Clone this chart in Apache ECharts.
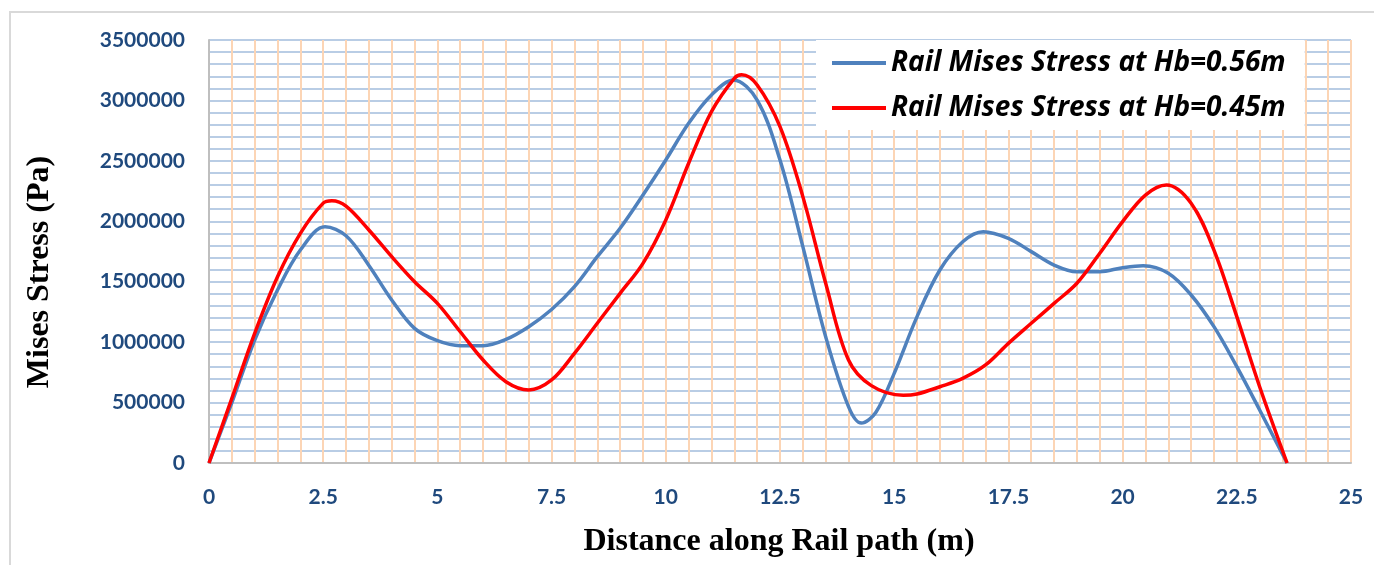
<!DOCTYPE html>
<html>
<head>
<meta charset="utf-8">
<script src="https://cdn.jsdelivr.net/npm/echarts@6/dist/echarts.min.js"></script>
<style>
html,body{margin:0;padding:0;background:#fff;}
#main{width:1374px;height:565px;}
</style>
</head>
<body>
<div id="main"></div>
<script>
// ---- data ----
var seriesNames = ['Rail Mises Stress at Hb=0.56m', 'Rail Mises Stress at Hb=0.45m'];
var xTicks = [0, 2.5, 5, 7.5, 10, 12.5, 15, 17.5, 20, 22.5, 25];
var yTicks = [0, 500000, 1000000, 1500000, 2000000, 2500000, 3000000, 3500000];

var blueX = [0, 0.5, 1.0, 1.5, 2.0, 2.54, 3.0, 3.5, 4.0, 4.5, 5.0, 5.5, 6.0, 6.5, 7.0, 7.5, 8.0, 8.5, 9.0, 9.5, 10.0, 10.5, 11.0, 11.48, 12.0, 12.5, 13.0, 13.5, 14.0, 14.28, 14.6, 15.0, 15.5, 16.0, 16.5, 16.95, 17.5, 18.0, 18.5, 19.0, 19.5, 20.0, 20.45, 21.0, 21.5, 22.0, 22.5, 23.0, 23.6];
var blueY = [0, 500000, 1018000, 1431000, 1762000, 1955000, 1880000, 1635000, 1349000, 1114000, 1012000, 971000, 971000, 1023000, 1128000, 1270000, 1459000, 1707000, 1942000, 2217000, 2507000, 2811000, 3045000, 3170000, 3003000, 2507000, 1790000, 1045000, 466000, 330000, 420000, 742000, 1211000, 1597000, 1831000, 1914000, 1859000, 1749000, 1638000, 1583000, 1583000, 1616000, 1632000, 1570000, 1390000, 1128000, 797000, 439000, 0];

var redX = [0, 0.5, 1.0, 1.5, 2.0, 2.5, 2.69, 3.0, 3.5, 4.0, 4.5, 5.0, 5.5, 6.0, 6.5, 7.0, 7.5, 8.0, 8.5, 9.0, 9.5, 10.0, 10.5, 11.0, 11.5, 11.66, 12.0, 12.5, 13.0, 13.5, 14.0, 14.5, 15.2, 15.5, 16.0, 16.5, 17.0, 17.5, 18.0, 18.5, 19.0, 19.5, 20.0, 20.5, 20.96, 21.5, 22.0, 22.5, 23.0, 23.6];
var redY = [0, 535000, 1073000, 1541000, 1900000, 2150000, 2170000, 2125000, 1928000, 1707000, 1500000, 1321000, 1086000, 852000, 673000, 604000, 687000, 907000, 1156000, 1404000, 1652000, 2011000, 2480000, 2907000, 3183000, 3212000, 3128000, 2783000, 2204000, 1487000, 852000, 640000, 560000, 571000, 631000, 700000, 811000, 990000, 1156000, 1321000, 1487000, 1735000, 1997000, 2217000, 2300000, 2149000, 1762000, 1211000, 631000, 0];

function pairs(xs, ys) { return xs.map(function (x, i) { return [x, ys[i]]; }); }

var chart = echarts.init(document.getElementById('main'), null, {renderer: 'canvas'});
var tickFont = {fontFamily: 'Lato', fontWeight: 'bold', fontSize: 21, color: '#1F497D'};

chart.setOption({
  animation: false,
  backgroundColor: '#fff',
  grid: {left: 209, right: 23, top: 40, bottom: 102, containLabel: false},
  xAxis: {
    type: 'value', min: xTicks[0], max: xTicks[xTicks.length - 1], interval: 2.5,
    axisLine: {show: true, lineStyle: {color: '#BFBFBF', width: 2}},
    axisTick: {show: false},
    axisLabel: Object.assign({margin: 24}, tickFont),
    splitLine: {show: true, lineStyle: {color: '#FCD5B5', width: 2}},
    minorTick: {show: false, splitNumber: 5},
    minorSplitLine: {show: true, lineStyle: {color: '#FCD5B5', width: 2}}
  },
  yAxis: {
    type: 'value', min: yTicks[0], max: yTicks[yTicks.length - 1], interval: 500000,
    axisLine: {show: true, lineStyle: {color: '#BFBFBF', width: 2}},
    axisTick: {show: false},
    axisLabel: Object.assign({margin: 24, formatter: function (v) { return String(v); }}, tickFont),
    splitLine: {show: true, lineStyle: {color: '#B9CDE5', width: 2}},
    minorTick: {show: false, splitNumber: 5},
    minorSplitLine: {show: true, lineStyle: {color: '#B9CDE5', width: 2}}
  },
  legend: {
    left: 816, top: 40,
    orient: 'vertical',
    backgroundColor: '#fff',
    padding: [7, 19, 6, 16],
    itemGap: 13,
    itemWidth: 54, itemHeight: 4,
    icon: 'rect',
    textStyle: {fontFamily: 'Open Sans', fontWeight: 'bold', fontStyle: 'italic', fontSize: 28, color: '#000', lineHeight: 32},
    data: seriesNames
  },
  graphic: [
    {type: 'rect', shape: {x: 10, y: 12, width: 1400, height: 600}, style: {fill: 'none', stroke: '#D9D9D9', lineWidth: 2}, silent: true, z: -10},
    {type: 'text', x: 779, y: 542, style: {text: 'Distance along Rail path (m)', font: 'bold 32px "Liberation Serif"', fill: '#000', textAlign: 'center', textVerticalAlign: 'middle'}},
    {type: 'text', x: 40, y: 272, rotation: Math.PI / 2, style: {text: 'Mises Stress (Pa)', font: 'bold 32px "Liberation Serif"', fill: '#000', textAlign: 'center', textVerticalAlign: 'middle'}}
  ],
  series: [
    {name: seriesNames[0], type: 'line', data: pairs(blueX, blueY), smooth: 0.35, symbol: 'none',
     lineStyle: {color: '#4F81BD', width: 3.5}, itemStyle: {color: '#4F81BD'}, z: 3},
    {name: seriesNames[1], type: 'line', data: pairs(redX, redY), smooth: 0.35, symbol: 'none',
     lineStyle: {color: '#FF0000', width: 3.5}, itemStyle: {color: '#FF0000'}, z: 4}
  ]
});
</script>
</body>
</html>
